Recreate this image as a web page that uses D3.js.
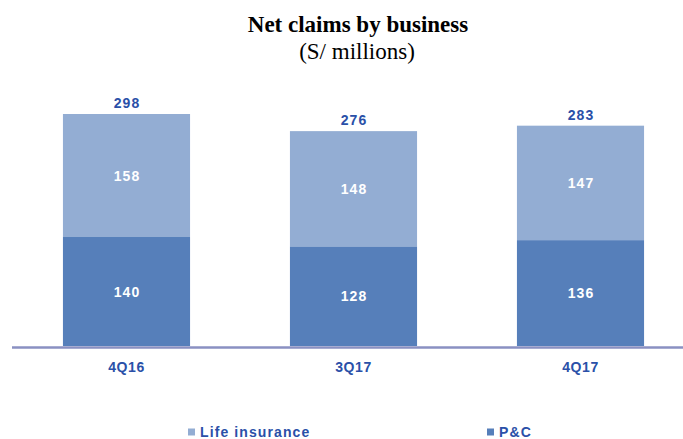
<!DOCTYPE html>
<html><head><meta charset="utf-8">
<script src="https://cdn.jsdelivr.net/npm/d3@7"></script>
<style>body{margin:0;background:#fff}</style>
</head><body>
<script>
const categories = ["4Q16", "3Q17", "4Q17"];
const pc = [140, 128, 136];
const life = [158, 148, 147];
const totals = [298, 276, 283];
const seriesNames = ["Life insurance", "P&C"];

const W = 683, H = 439;
const svg = d3.select("body").append("svg").attr("width", W).attr("height", H);
const base = 346;
const x = d3.scaleBand().domain(categories).range([13, 694]).paddingInner(0.44).paddingOuter(0.22);
const y = d3.scaleLinear().domain([0, 298]).range([base, 114]);
const cDark = "#567fba", cLight = "#93add3", cText = "#2a50a8";
const sans = "Liberation Sans";

svg.append("text").attr("x", 358).attr("y", 32).attr("text-anchor", "middle")
  .style("font-family", "Liberation Serif").style("font-weight", "bold").style("font-size", "23px").text("Net claims by business");
svg.append("text").attr("x", 357).attr("y", 59).attr("text-anchor", "middle")
  .style("font-family", "Liberation Serif").style("font-size", "23px").text("(S/ millions)");

const data = categories.map((c, i) => ({c, pc: pc[i], life: life[i], total: totals[i]}));
const g = svg.append("g");
g.selectAll(".pc").data(data).join("rect").attr("x", d => x(d.c)).attr("width", x.bandwidth())
  .attr("y", d => y(d.pc)).attr("height", d => y(0) - y(d.pc)).attr("fill", cDark);
g.selectAll(".life").data(data).join("rect").attr("x", d => x(d.c)).attr("width", x.bandwidth())
  .attr("y", d => y(d.pc + d.life)).attr("height", d => y(d.pc) - y(d.pc + d.life)).attr("fill", cLight);

const lab = (sel, fs, ls) => sel.style("font-family", sans).style("font-weight", "bold").style("font-size", fs + "px")
  .style("letter-spacing", ls + "px").attr("text-anchor", "middle").attr("dominant-baseline", "central");
g.selectAll(".tpc").data(data).join("text").call(lab, 14, 1).attr("fill", "#fff")
  .attr("x", d => x(d.c) + x.bandwidth()/2 + 0.5).attr("y", d => (y(0) + y(d.pc))/2).text(d => d.pc);
g.selectAll(".tlife").data(data).join("text").call(lab, 14, 1).attr("fill", "#fff")
  .attr("x", d => x(d.c) + x.bandwidth()/2 + 0.5).attr("y", d => (y(d.pc) + y(d.pc + d.life))/2).text(d => d.life);
g.selectAll(".ttot").data(data).join("text").call(lab, 14, 1).attr("fill", cText)
  .attr("x", d => x(d.c) + x.bandwidth()/2 + 0.5).attr("y", d => y(d.total) - 11).text(d => d.total);

svg.append("line").attr("x1", 12).attr("x2", 683).attr("y1", base + 1.5).attr("y2", base + 1.5)
  .attr("stroke", "#8a90c2").attr("stroke-width", 2.5);

const ax = svg.append("g").attr("transform", `translate(0,${base})`).call(d3.axisBottom(x).tickSize(0).tickPadding(0));
ax.select(".domain").remove();
ax.selectAll("text").call(lab, 14, 0.6).attr("dy", null).attr("y", 21).attr("fill", cText);

const legend = [{name: seriesNames[0], color: cLight, x: 188}, {name: seriesNames[1], color: cDark, x: 487}];
const lg = svg.selectAll(".lg").data(legend).join("g").attr("transform", d => `translate(${d.x},432)`);
lg.append("rect").attr("x", 0).attr("y", -3.5).attr("width", 7).attr("height", 7).attr("fill", d => d.color);
lg.append("text").attr("x", 12).attr("y", 0).style("font-family", sans).style("font-weight", "bold")
  .style("font-size", "14px").style("letter-spacing", "1.1px").attr("dominant-baseline", "central").attr("fill", cText).text(d => d.name);
</script>
</body></html>
